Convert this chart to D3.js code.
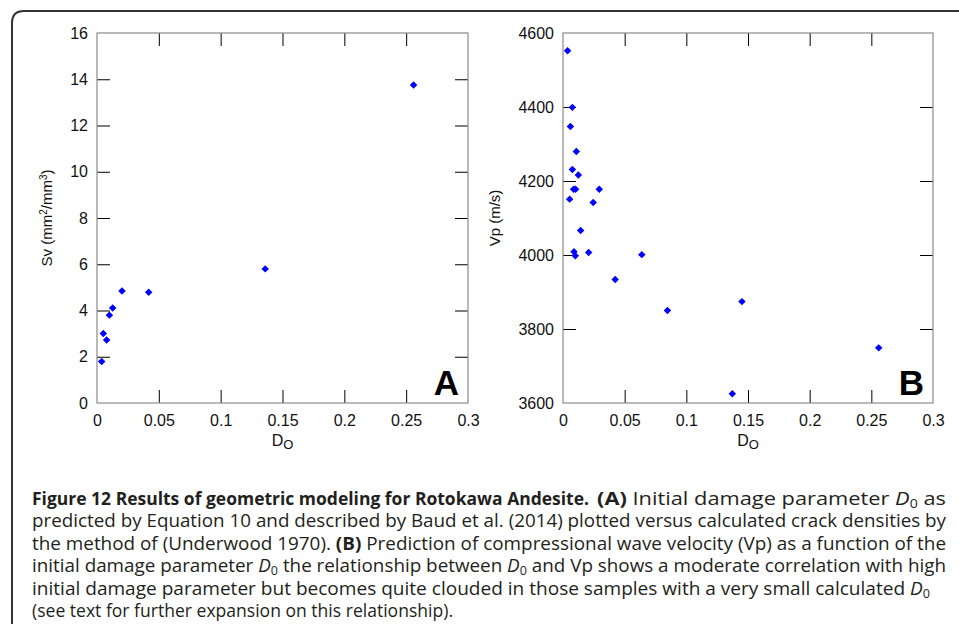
<!DOCTYPE html>
<html>
<head>
<meta charset="utf-8">
<script src="https://cdn.jsdelivr.net/npm/d3@7"></script>
<style>
  body { margin: 0; background: #fff; }
  svg { display: block; }
</style>
</head>
<body>
<div id="chart"></div>
<script>
// Panel A: D0 vs Sv
const dA  = [0.0038, 0.0051, 0.0078, 0.0100, 0.0127, 0.0202, 0.0418, 0.136, 0.256];
const svA = [1.79,   3.01,   2.72,   3.80,   4.11,   4.84,   4.79,   5.80,  13.75];

// Panel B: D0 vs Vp
const dB  = [0.0037, 0.0076, 0.0060, 0.0108, 0.0076, 0.0124, 0.0086, 0.0102, 0.0054, 0.0294, 0.0245,
             0.0143, 0.0089, 0.0100, 0.0208, 0.0639, 0.0423, 0.0847, 0.1451, 0.1373, 0.256];
const vpB = [4552, 4399, 4347, 4280, 4231, 4216, 4178, 4178, 4151, 4178, 4142,
             4066, 4009, 3998, 4007, 4001, 3934, 3850, 3874, 3625, 3749];

const xTicks  = [0, 0.05, 0.1, 0.15, 0.2, 0.25, 0.3];
const svTicks = [0, 2, 4, 6, 8, 10, 12, 14, 16];
const vpTicks = [3600, 3800, 4000, 4200, 4400, 4600];

const FONT = "'Liberation Sans', Arial, Helvetica, sans-serif";
const width = 959, height = 624;
const svg = d3.select("#chart").append("svg")
    .attr("width", width)
    .attr("height", height);

// marco redondeado de la figura
svg.append("path")
    .attr("d", "M12,630 V23 Q12,11 24,11 H965")
    .attr("fill", "none")
    .attr("stroke", "#333")
    .attr("stroke-width", 2);

function panel(opts) {
    const x = d3.scaleLinear().domain([0, 0.3]).range([opts.left, opts.right]);
    const y = d3.scaleLinear().domain(opts.yDomain).range([403, 33]);
    const tick = 13;
    const fmtX = d => String(+d.toFixed(2));

    const g = svg.append("g");

    // ejes (ticks hacia dentro)
    const axes = [
        { ax: d3.axisBottom(x).tickValues(xTicks).tickFormat(fmtX), t: `translate(0,${y.range()[0]})`, pad: 12 },
        { ax: d3.axisTop(x).tickValues(xTicks).tickFormat(""), t: `translate(0,${y.range()[1]})`, pad: 8 },
        { ax: d3.axisLeft(y).tickValues(opts.yTicks).tickFormat(d3.format("d")), t: `translate(${opts.left},0)`, pad: 9 },
        { ax: d3.axisRight(y).tickValues(opts.yTicks).tickFormat(""), t: `translate(${opts.right},0)`, pad: 8 }
    ];
    axes.forEach(a => {
        const ag = g.append("g").attr("transform", a.t)
            .call(a.ax.tickSizeInner(-tick).tickSizeOuter(0).tickPadding(a.pad));
        ag.select(".domain").remove();
        ag.selectAll(".tick line").attr("stroke", "#000");
        ag.selectAll(".tick text")
            .attr("fill", "#111")
            .style("font-family", FONT)
            .style("font-size", "16px");
        // sin ticks en los extremos
        ag.selectAll(".tick").filter((d, i, n) => i === 0 || i === n.length - 1)
            .select("line").remove();
    });

    g.append("rect")
        .attr("x", opts.left).attr("y", 33)
        .attr("width", opts.right - opts.left).attr("height", 370)
        .attr("fill", "none").attr("stroke", "#8a8a8a").attr("stroke-width", 1.2);

    // puntos
    const diamond = d3.symbol().type(d3.symbolSquare).size(28);
    g.selectAll("path.pt")
        .data(opts.xs.map((d, i) => [d, opts.ys[i]]))
        .enter().append("path")
        .attr("class", "pt")
        .attr("d", diamond)
        .attr("fill", "#0000ff")
        .attr("transform", d => `translate(${x(d[0])},${y(d[1])}) rotate(45)`);

    // etiqueta eje x: Do
    const xl = g.append("text")
        .attr("x", (opts.left + opts.right) / 2)
        .attr("y", 446)
        .attr("text-anchor", "middle")
        .style("font-family", FONT)
        .style("font-size", "16px")
        .attr("fill", "#111");
    xl.append("tspan").text("D");
    xl.append("tspan").attr("dy", 3).style("font-size", "13px").text("O");

    // etiqueta eje y
    const yl = g.append("text")
        .attr("transform", `translate(${opts.yLabelX},${218}) rotate(-90)`)
        .attr("text-anchor", "middle")
        .style("font-family", FONT)
        .style("font-size", "15px")
        .attr("fill", "#111");
    opts.yLabel.forEach(p => {
        const t = yl.append("tspan").text(p.t);
        if (p.sup) t.attr("dy", -5).style("font-size", "10px");
        if (p.back) t.attr("dy", 5);
    });

    // letra del panel
    g.append("text")
        .attr("x", opts.right - 9)
        .attr("y", 395)
        .attr("text-anchor", "end")
        .style("font-family", FONT)
        .style("font-weight", "bold")
        .style("font-size", "35px")
        .attr("fill", "#000")
        .text(opts.letter);
}

panel({
    left: 97, right: 468, yDomain: [0, 16], yTicks: svTicks, xs: dA, ys: svA, letter: "A", yLabelX: 52,
    yLabel: [{ t: "Sv (mm" }, { t: "2", sup: true }, { t: "/mm", back: true }, { t: "3", sup: true }, { t: ")", back: true }]
});
panel({
    left: 563, right: 933, yDomain: [3600, 4600], yTicks: vpTicks, xs: dB, ys: vpB, letter: "B", yLabelX: 500,
    yLabel: [{ t: "Vp (m/s)" }]
});

// pie de figura: cada segmento con su inicio y ancho
const captionLines = [
    [{ x: 32, len: 557, parts: [{ t: "Figure 12 Results of geometric modeling for Rotokawa Andesite.", b: true }] },
     { x: 597, len: 349, fs: 18.5, parts: [{ t: "(A)", b: true }, { t: " Initial damage parameter " }, { t: "D", i: true }, { t: "0", sub: true }, { t: " as", back: true }] }],
    [{ x: 32, len: 914, parts: [{ t: "predicted by Equation 10 and described by Baud et al. (2014) plotted versus calculated crack densities by" }] }],
    [{ x: 32, len: 914, parts: [{ t: "the method of (Underwood 1970). " }, { t: "(B)", b: true }, { t: " Prediction of compressional wave velocity (Vp) as a function of the" }] }],
    [{ x: 32, len: 914, parts: [{ t: "initial damage parameter " }, { t: "D", i: true }, { t: "0", sub: true }, { t: " the relationship between ", back: true }, { t: "D", i: true }, { t: "0", sub: true }, { t: " and Vp shows a moderate correlation with high", back: true }] }],
    [{ x: 32, len: 898, parts: [{ t: "initial damage parameter but becomes quite clouded in those samples with a very small calculated " }, { t: "D", i: true }, { t: "0", sub: true }] }],
    [{ x: 32, len: 421, parts: [{ t: "(see text for further expansion on this relationship)." }] }]
];

captionLines.forEach((line, k) => {
    line.forEach(seg => {
        const txt = svg.append("text")
            .attr("x", seg.x)
            .attr("y", 505 + k * 22.4)
            .attr("textLength", seg.len)
            .attr("lengthAdjust", "spacingAndGlyphs")
            .style("font-family", "'Open Sans', 'Noto Sans', sans-serif")
            .style("font-size", (seg.fs || 18) + "px")
            .attr("fill", "#231f20");
        seg.parts.forEach(p => {
            const s = txt.append("tspan").text(p.t);
            if (p.b) s.style("font-weight", "bold");
            if (p.i) s.style("font-style", "italic");
            if (p.sub) s.attr("dy", 3).style("font-size", "12px");
            if (p.back) s.attr("dy", -3);
        });
    });
});
</script>
</body>
</html>
